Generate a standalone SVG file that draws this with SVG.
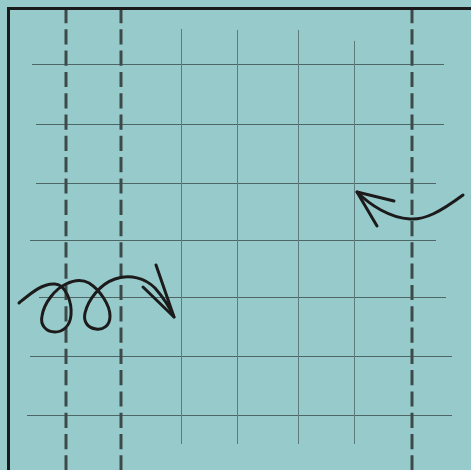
<svg xmlns="http://www.w3.org/2000/svg" width="471" height="470" viewBox="0 0 471 470">
<style>
.grid{stroke:#4f6666;stroke-width:1;fill:none}
.gridv{stroke:#5e7a7a;stroke-width:1;fill:none}
.dash{stroke:#3e4a4a;stroke-width:3;stroke-dasharray:15.2 6.1;fill:none}
.frame{stroke:#1a1a1a;stroke-width:3;fill:none}
.ink{stroke:#1c1a1a;stroke-width:3;fill:none;stroke-linecap:round;stroke-linejoin:round}
</style>
<rect x="0" y="0" width="471" height="470" fill="#97cbcb"/>
<g id="grid">
<line class="grid" x1="32" y1="64.5" x2="444" y2="64.5"/>
<line class="grid" x1="36" y1="124.5" x2="444" y2="124.5"/>
<line class="grid" x1="36" y1="183.5" x2="436" y2="183.5"/>
<line class="grid" x1="30" y1="240.5" x2="436" y2="240.5"/>
<line class="grid" x1="39" y1="297.5" x2="446" y2="297.5"/>
<line class="grid" x1="30" y1="356.5" x2="452" y2="356.5"/>
<line class="grid" x1="27" y1="415.5" x2="452" y2="415.5"/>
<line class="gridv" x1="181.5" y1="29" x2="181.5" y2="444"/>
<line class="gridv" x1="237.5" y1="30" x2="237.5" y2="444"/>
<line class="gridv" x1="298.5" y1="30" x2="298.5" y2="444"/>
<line class="gridv" x1="354.5" y1="41" x2="354.5" y2="444"/>
</g>
<g id="dashed">
<line class="dash" x1="66" y1="8" x2="66" y2="470"/>
<line class="dash" x1="121" y1="8" x2="121" y2="470"/>
<line class="dash" x1="412" y1="8" x2="412" y2="470"/>
</g>
<g id="frame">
<path class="frame" d="M8.5,470 L8.5,8.5 L471,8.5"/>
</g>
<g id="connectors">
<path class="ink" d="M19,303 C30,294 42,283 55,284 C66,285 72,302 71,315 C70,327 62,332 55,332 C46,332 40,325 42,316 C44,303 55,289 66,284 C74,280 82,279 89,283 C100,290 110,305 110,316 C110,326 103,330 96,329 C88,328 83,322 85,313 C88,300 100,284 115,279 C130,274 145,278 155,288 C162,296 170,308 174,317"/>
<path class="ink" d="M156,265 L174,317 L143,287"/>
<path class="ink" d="M463,195 C440,212 425,220 410,219 C390,218 370,205 357,192"/>
<path class="ink" d="M394,201 L357,192 L377,226"/>
</g>
</svg>
